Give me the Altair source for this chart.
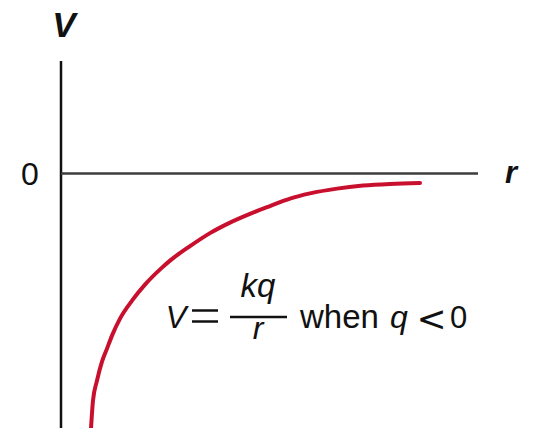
import altair as alt
import pandas as pd

# Potential curve V(r) for a negative point charge (arbitrary units)
r_vals = [0.719, 0.767, 0.863, 0.983, 1.103, 1.223, 1.415, 1.703, 2.014, 2.422, 2.614,
          3.094, 3.573, 4.053, 4.532, 5.012, 5.492, 5.971, 6.619, 7.242, 7.890, 8.609]
v_vals = [-6.12, -5.444, -4.964, -4.508, -4.197, -3.885, -3.477, -3.046, -2.662, -2.254, -2.086,
          -1.739, -1.427, -1.175, -0.966, -0.779, -0.600, -0.475, -0.360, -0.288, -0.247, -0.223]

# Axis extents
r_axis = [0.0, 10.0]
v_axis = [-6.1, 2.7]

curve = pd.DataFrame({"r": r_vals, "V": v_vals})

xs = alt.Scale(domain=r_axis, nice=False, zero=False)
ys = alt.Scale(domain=v_axis, nice=False, zero=False)

base_font = "Liberation Sans"
ink = "#111111"

# V axis (vertical) and r axis (horizontal, at V = 0)
v_line = alt.Chart(pd.DataFrame({"r": [0.0], "v1": [v_axis[0]], "v2": [v_axis[1]]})).mark_rule(
    color=ink, strokeWidth=2.5
).encode(x=alt.X("r:Q", scale=xs, axis=None), y=alt.Y("v1:Q", scale=ys, axis=None), y2="v2:Q")

r_line = alt.Chart(pd.DataFrame({"r1": [r_axis[0]], "r2": [r_axis[1]], "V": [0.0]})).mark_rule(
    color="#3c3c3c", strokeWidth=2.5
).encode(x=alt.X("r1:Q", scale=xs, axis=None), x2="r2:Q", y=alt.Y("V:Q", scale=ys, axis=None))

line = alt.Chart(curve).mark_line(
    color="#C8102E", strokeWidth=4, interpolate="monotone", strokeCap="round"
).encode(x=alt.X("r:Q", scale=xs, axis=None), y=alt.Y("V:Q", scale=ys, axis=None))


def label(text, x, y, size, style="normal", weight="normal", align="center", font=base_font):
    return alt.Chart(pd.DataFrame({"t": [text]})).mark_text(
        font=font, fontSize=size, fontStyle=style, fontWeight=weight,
        align=align, baseline="alphabetic", color=ink
    ).encode(text="t:N", x=alt.value(x), y=alt.value(y))


def stroke(x1, x2, y, width=2.5):
    return alt.Chart(pd.DataFrame({"k": [0]})).mark_rule(color=ink, strokeWidth=width).encode(
        x=alt.value(x1), x2=alt.value(x2), y=alt.value(y)
    )


# Plot area origin sits at (61, 61) on the page
ox, oy = 61, 61
labels = [
    label("V", 64 - ox, 37 - oy, 35, "italic", "bold"),
    label("r", 511 - ox, 183 - oy, 31, "italic", "bold"),
    label("0", 30 - ox, 185 - oy, 32),
    # V = kq / r when q < 0
    label("V", 176 - ox, 328 - oy, 31, "italic"),
    label("kq", 258 - ox, 297 - oy, 33, "italic"),
    label("r", 258 - ox, 339 - oy, 32, "italic"),
    label("when", 300 - ox, 328 - oy, 33, align="left"),
    label("q", 390 - ox, 328 - oy, 32, "italic", align="left"),
    label("<", 431.5 - ox, 331 - oy, 36, font="DejaVu Sans"),
    label("0", 450 - ox, 328 - oy, 31, align="left"),
]

# equals sign and fraction bar
strokes = [
    stroke(192 - ox, 218 - ox, 310.5 - oy),
    stroke(192 - ox, 218 - ox, 321.5 - oy),
    stroke(230 - ox, 287 - ox, 317 - oy),
]

chart = alt.layer(v_line, r_line, line, *strokes, *labels).properties(
    width=417, height=367,
    padding={"left": 61, "top": 61, "right": 56, "bottom": 0},
    autosize=alt.AutoSizeParams(type="none"),
    background="white",
).configure_view(stroke=None)

chart.save("out.html", embed_options={"renderer": "svg", "actions": False})
